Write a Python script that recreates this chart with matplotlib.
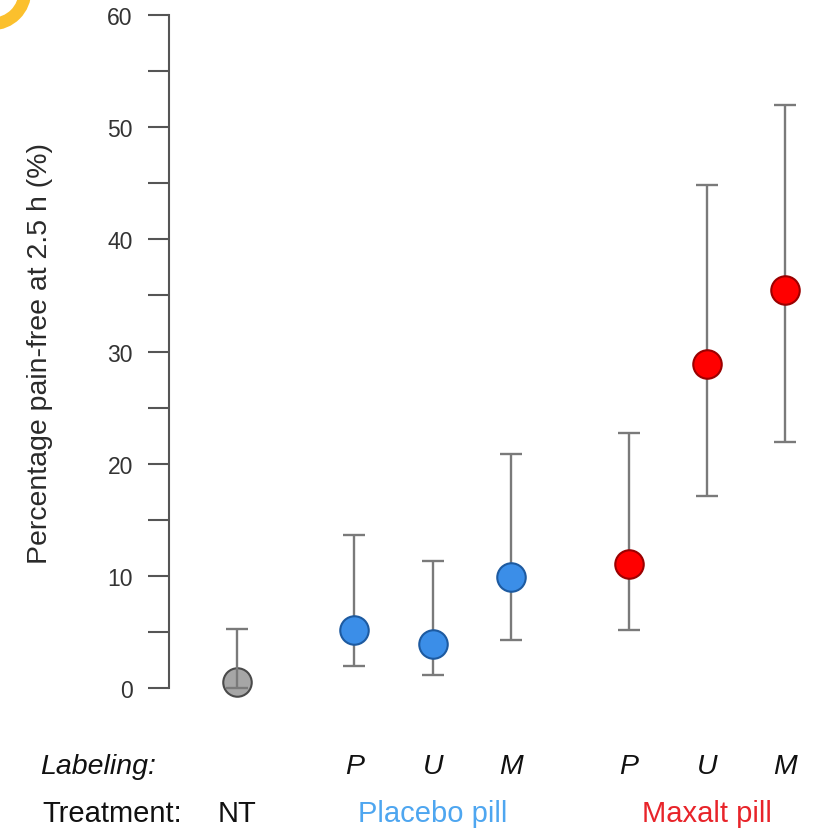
"""Pain-free rates at 2.5 h by treatment and pill labeling."""

import matplotlib.pyplot as plt
import matplotlib.transforms as mtransforms
from matplotlib.patches import Circle


TREATMENTS = ["NT", "Placebo pill", "Maxalt pill"]
TREATMENT_OF = [0, 1, 1, 1, 2, 2, 2]
LABELING = ["", "P", "U", "M", "P", "U", "M"]
PAIN_FREE = [0.5, 5.2, 3.9, 9.9, 11.1, 28.9, 35.5]
CI_LOW = [0.0, 2.0, 1.2, 4.3, 5.2, 17.1, 21.9]
CI_HIGH = [5.3, 13.6, 11.3, 20.9, 22.7, 44.8, 52.0]


def main():
    plt.rcParams["font.family"] = ["Liberation Sans", "DejaVu Sans"]

    fill = ["#a6a6a6", "#3b8ee8", "#ff0000"]
    edge = ["#4a4a4a", "#1d5aa0", "#9a0000"]
    text_colors = ["#111111", "#4ea6f0", "#e8242a"]

    # half-step gap between treatment groups
    xs = [i + 0.5 * g for i, g in enumerate(TREATMENT_OF)]

    fig = plt.figure(figsize=(8.21, 8.37), dpi=100)
    ax = fig.add_axes([0.2058, 0.150, 0.7942, 0.8443])

    for x, g, y, lo, hi in zip(xs, TREATMENT_OF, PAIN_FREE, CI_LOW, CI_HIGH):
        ax.errorbar(x, y, yerr=[[y - lo], [hi - y]], fmt="none", ecolor="#7a7a7a",
                    elinewidth=1.7, capsize=8, capthick=1.7, zorder=2)
        # the untreated point sits under its error bar
        ax.plot(x, y, "o", ms=20.5, mfc=fill[g], mec=edge[g], mew=1.5,
                zorder=1 if g == 0 else 3, clip_on=False)

    ax.set_xlim(-0.868, 7.458)
    ax.set_ylim(-2, 61)
    ax.set_yticks(range(0, 61, 5))
    ax.set_yticklabels([str(v) if v % 10 == 0 else "" for v in range(0, 61, 5)])
    ax.tick_params(axis="y", length=15, width=1.5, color="#555555", pad=11,
                   labelsize=16.5, labelcolor="#333333")
    ax.set_xticks([])
    for side in ["top", "right", "bottom"]:
        ax.spines[side].set_visible(False)
    ax.spines["left"].set_bounds(0, 60)
    ax.spines["left"].set_color("#555555")
    ax.spines["left"].set_linewidth(1.5)

    fig.text(0.049, 0.5777, "Percentage pain-free at 2.5 h (%)", rotation=90,
             ha="center", va="center", fontsize=20.5, color="#2a2a2a")

    # label rows under the axis: x in data units, y in figure units
    trans = mtransforms.blended_transform_factory(ax.transData, fig.transFigure)
    fig.text(0.049, 0.0836, "Labeling:", style="italic", fontsize=20.5,
             ha="left", va="center", color="#111111")
    fig.text(0.052, 0.0275, "Treatment:", fontsize=21, ha="left", va="center",
             color="#111111")
    for x, lab in zip(xs, LABELING):
        ax.text(x, 0.0836, lab, transform=trans, style="italic", fontsize=20.5,
                ha="center", va="center", color="#111111")
    for g, name in enumerate(TREATMENTS):
        gx = [x for x, t in zip(xs, TREATMENT_OF) if t == g]
        ax.text(sum(gx) / len(gx), 0.0275, name, transform=trans, fontsize=21,
                ha="center", va="center", color=text_colors[g])

    # yellow ring in the corner
    fig.add_artist(Circle((-0.08, 8.37 + 0.08), 0.33, transform=fig.dpi_scale_trans,
                          fill=False, edgecolor="#fbc02d", linewidth=9))

    fig.savefig("out.png", dpi=100)


if __name__ == "__main__":
    main()
